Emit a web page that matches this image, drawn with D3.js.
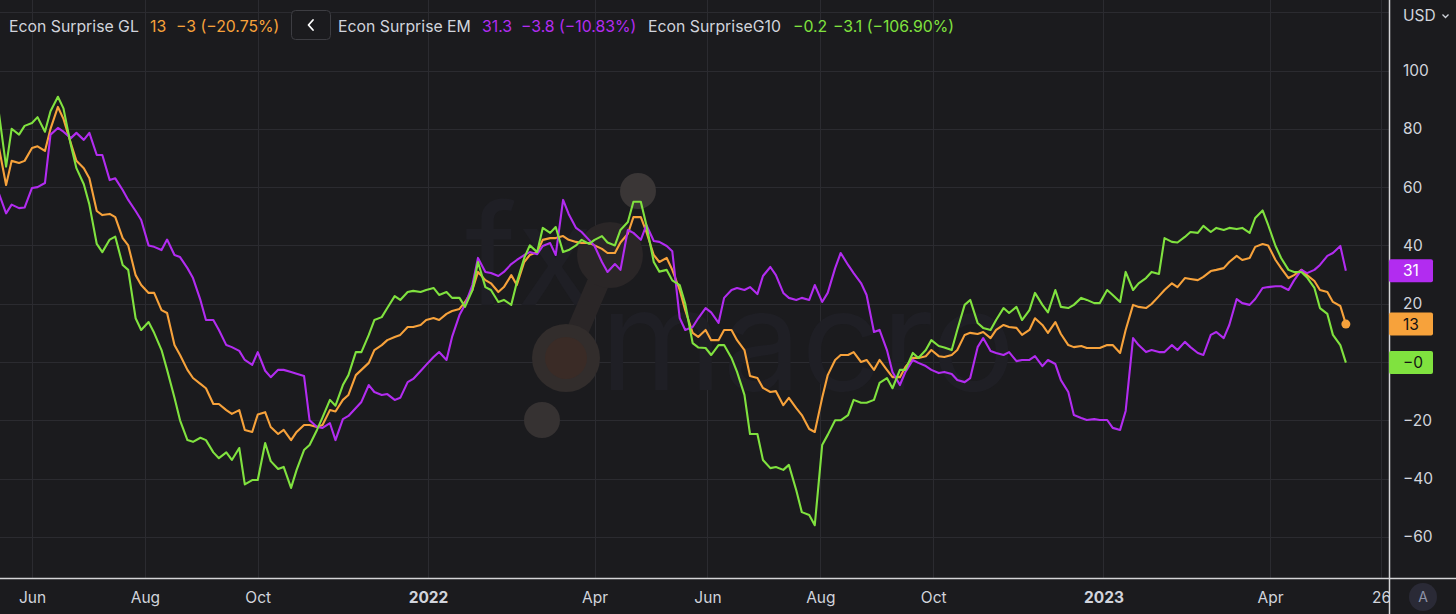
<!DOCTYPE html>
<html><head><meta charset="utf-8">
<script src="https://cdn.jsdelivr.net/npm/d3@7"></script>
<style>
html,body{margin:0;padding:0;background:#1b1b1e;}
svg{display:block;}
text{font-family:Inter,"Noto Sans",sans-serif;}
</style></head><body>
<svg id="chart" width="1456" height="614"></svg>
<script>
// ---------- data (twice-weekly readings) ----------
const dates = ["2021-05-14","2021-05-18","2021-05-21","2021-05-25","2021-05-28","2021-06-01","2021-06-04","2021-06-08","2021-06-11","2021-06-15","2021-06-18","2021-06-22","2021-06-25","2021-06-29","2021-07-02","2021-07-06","2021-07-09","2021-07-13","2021-07-16","2021-07-20","2021-07-23","2021-07-27","2021-07-30","2021-08-03","2021-08-06","2021-08-10","2021-08-13","2021-08-17","2021-08-20","2021-08-24","2021-08-27","2021-08-31","2021-09-03","2021-09-07","2021-09-10","2021-09-14","2021-09-17","2021-09-21","2021-09-24","2021-09-28","2021-10-01","2021-10-05","2021-10-08","2021-10-12","2021-10-15","2021-10-19","2021-10-22","2021-10-26","2021-10-29","2021-11-02","2021-11-05","2021-11-09","2021-11-12","2021-11-16","2021-11-19","2021-11-23","2021-11-26","2021-11-30","2021-12-03","2021-12-07","2021-12-10","2021-12-14","2021-12-17","2021-12-21","2021-12-24","2021-12-28","2021-12-31","2022-01-04","2022-01-07","2022-01-11","2022-01-14","2022-01-18","2022-01-21","2022-01-25","2022-01-28","2022-02-01","2022-02-04","2022-02-08","2022-02-11","2022-02-15","2022-02-18","2022-02-22","2022-02-25","2022-03-01","2022-03-04","2022-03-08","2022-03-11","2022-03-15","2022-03-18","2022-03-22","2022-03-25","2022-03-29","2022-04-01","2022-04-05","2022-04-08","2022-04-12","2022-04-15","2022-04-19","2022-04-22","2022-04-26","2022-04-29","2022-05-03","2022-05-06","2022-05-10","2022-05-13","2022-05-17","2022-05-20","2022-05-24","2022-05-27","2022-05-31","2022-06-03","2022-06-07","2022-06-10","2022-06-14","2022-06-17","2022-06-21","2022-06-24","2022-06-28","2022-07-01","2022-07-05","2022-07-08","2022-07-12","2022-07-15","2022-07-19","2022-07-22","2022-07-26","2022-07-29","2022-08-02","2022-08-05","2022-08-09","2022-08-12","2022-08-16","2022-08-19","2022-08-23","2022-08-26","2022-08-30","2022-09-02","2022-09-06","2022-09-09","2022-09-13","2022-09-16","2022-09-20","2022-09-23","2022-09-27","2022-09-30","2022-10-04","2022-10-07","2022-10-11","2022-10-14","2022-10-18","2022-10-21","2022-10-25","2022-10-28","2022-11-01","2022-11-04","2022-11-08","2022-11-11","2022-11-15","2022-11-18","2022-11-22","2022-11-25","2022-11-29","2022-12-02","2022-12-06","2022-12-09","2022-12-13","2022-12-16","2022-12-20","2022-12-23","2022-12-27","2022-12-30","2023-01-03","2023-01-06","2023-01-10","2023-01-13","2023-01-17","2023-01-20","2023-01-24","2023-01-27","2023-01-31","2023-02-03","2023-02-07","2023-02-10","2023-02-14","2023-02-17","2023-02-21","2023-02-24","2023-02-28","2023-03-03","2023-03-07","2023-03-10","2023-03-14","2023-03-17","2023-03-21","2023-03-24","2023-03-28","2023-03-31","2023-04-04","2023-04-07","2023-04-11","2023-04-14","2023-04-18","2023-04-21","2023-04-25","2023-04-28","2023-05-02","2023-05-05","2023-05-09","2023-05-12"];

const glValues = [74,60.7,69,68.3,69,73.4,74,72.4,80,87.5,83.4,75,69,66.5,63,51.8,50.4,50.8,49.7,42.5,
40,29.8,26.4,23.7,23.7,17.8,16.8,5.8,2.4,-2.7,-5.5,-7.5,-9,-14.4,-14.4,-16.5,-17.8,-16.5,-23.3,-24,
-18,-17.2,-22.3,-24.7,-23.3,-26.8,-24,-21.6,-21.6,-22.3,-21.6,-16.5,-17,-13,-11.3,-4.5,-2.7,-0.3,4.1,5.8,
7.5,8.6,9.3,12,12,12.7,14.4,15.1,14.4,16.5,17.5,18.2,20.6,24.7,30.9,28.1,27,24,25.7,29.8,
26.4,34.3,36.7,37.7,41.9,42.5,42.5,43.2,41.9,41.2,40.8,40.8,40,38.8,37.4,37.4,41,44,49.7,49.7,
44.6,36.7,34.3,35.7,31.6,24.7,17.8,10,8.6,11,7.5,7.5,11,11,7.5,4.1,-4.8,-5.5,-8.9,-10.3,
-10,-14.8,-12.3,-15.8,-18.2,-23,-24,-12.3,-4.5,0.7,2.4,2.4,3.4,0,0.7,-2.7,0.7,-2.7,-5.2,-5.2,
-1.7,1.4,1.4,2,4.1,2,1.7,2.4,4.1,9.3,10,9.6,10.3,8.2,11,12.7,12,11.7,9.3,11,
15,12.7,10,13.7,9.6,5.8,5.1,5.5,4.8,4.8,4.8,5.8,5.8,3.1,11,19.6,18.9,18.5,19.9,22.6,
24.7,27,25.7,28.8,28.5,28.1,29.2,31.2,31.6,32.2,34.3,36.4,35,35.7,39.5,40.5,40,35,32.2,28.8,
29.8,31.6,29.8,27.8,24.7,24,20.6,19.2,13];

const emValues = [58,51,54,52.8,53,59.7,60,61.4,78,80.3,79,76.8,78.6,76.2,78.6,71,71,62.4,63,59,
55.6,51.8,48.7,40,39.5,38.4,42,36.7,36,32.2,28.8,21.3,14.4,14.4,11,5.8,5.1,3.8,0.7,-1,
3.4,-3,-5.2,-2.7,-2.7,-3.4,-4,-4.8,-20,-22.3,-22.6,-21,-26.8,-19.6,-18.5,-15.8,-13.7,-7.9,-10.3,-11.3,
-11,-13,-12.3,-6.9,-5.8,-3.1,-1,1.7,3.4,0.7,8.6,16.1,19.6,26.4,35.7,30.9,30.5,29.5,30.9,33.6,
35,36.7,37.7,37,39.8,40.8,36.7,55.6,50.8,46,44.6,41.9,39.8,34.3,30.9,33.6,31.6,45.3,44.3,41.9,
47,41.5,41.2,39.8,38,15.1,11,12,15,18.5,17,13.4,22,24.7,25.4,24.7,25.7,23.3,29.5,32.6,
29.8,23.7,22,21.3,22,21.3,26.4,20.6,23.7,32.2,37.4,33.3,30.5,27.1,23,10.3,11,4.1,-3.4,-7.9,
-3.4,0.7,-0.3,-1.4,-2.7,-3.8,-3.4,-4.1,-6.2,-6.9,-5.5,5.1,8.2,3.8,3.1,2.4,3.4,0.3,0.7,0.7,
2,-1.4,0.7,-0.7,-6.2,-10.3,-18.2,-19.2,-19.9,-19.6,-19.9,-19.9,-22.6,-23.3,-16.8,8.2,5.8,3.4,4.1,3.4,
3.4,5.8,4.1,6.9,5.1,3.1,2.4,9.3,10.3,8.2,12.7,21.6,20.2,19.6,21.6,25.4,25.7,26,26,24.7,
28,31.6,30.5,31.6,33.3,36.4,37.4,39.8,31.3];

const g10Values = [86,67,80,78,81,82,84,79,86,91,87,74.4,66.5,61,54,40.5,37.7,42,43,33.3,
31.6,15,11,13.7,10,4.1,-2.7,-12.3,-20,-26.8,-27.4,-26,-26.8,-31,-33,-31,-33.6,-29.5,-42,-40.5,
-40.5,-27.8,-34,-36.7,-36,-43.2,-37,-30.2,-28.5,-23.3,-19,-13,-15,-7.9,-4.5,3.4,3.4,9.3,14.4,15.4,
18.5,22.6,21.3,24,24.4,24,24.7,25.4,23,24,22,22,18.9,24.7,34.3,25.7,24.7,20.6,21.3,19.6,
27.4,35.7,40,37.7,46,44.3,46.3,37.7,38.4,40,41.9,40.5,41.9,43.2,41,40,45.3,48,55,55,
47,34.3,31,31.6,28,26.4,20,6.5,5,4.8,2.4,5.8,5.8,1.4,-3.4,-11.3,-24.7,-24.7,-33.6,-36.4,
-36,-37,-35.3,-44,-51.5,-52.5,-56,-28.5,-25,-20,-20,-18.2,-13,-14,-14,-13,-7.2,-5.5,-9,-2.7,
-2.7,3.1,1.4,4.1,7.5,5.5,5,4.1,11,19.6,21.3,13.4,11.7,11,14.4,18.5,16.8,18.9,14.4,17.8,
23.7,19.6,17,24.7,18.9,18.5,19.6,22,21.3,20.2,20.2,24.7,23,20.6,30.9,24.7,27,28.8,30.9,30.2,
42.5,41.2,41,42.9,44.6,44.3,46.7,44.6,46,45.3,46,45.6,46,44.3,49.4,52,47,39.8,35.7,31.6,
30.9,30.9,29,25.4,18.5,16.5,9.3,5.8,-0.2];

const seriesNames = ["Econ Surprise GL","Econ Surprise EM","Econ SurpriseG10"];
const seriesColors = ["#f7a23b","#b22cf0","#80e23f"];
const seriesLastText = ["13","31.3","\u22120.2"];
const seriesChangeText = ["\u22123 (\u221220.75%)","\u22123.8 (\u221210.83%)","\u22123.1 (\u2212106.90%)"];
const priceBoxText = ["13","31","\u22120"];
const priceBoxTextColor = ["#131313","#ffffff","#131313"];

const yTicks = [-60,-40,-20,20,40,60,80,100];
const yGrid = [-60,-40,-20,0,20,40,60,80,100,120];
const xTickDates = ["2021-06-01","2021-08-01","2021-10-01","2022-01-01","2022-04-01","2022-06-01","2022-08-01","2022-10-01","2023-01-01","2023-04-01","2023-05-31"];
const xTickLabels = ["Jun","Aug","Oct","2022","Apr","Jun","Aug","Oct","2023","Apr","26"];

// ---------- layout ----------
const W = 1456, H = 614, plotR = 1389, plotB = 578;
const FONT = "Inter, 'Noto Sans', sans-serif";
const parse = d3.timeParse("%Y-%m-%d");
const svg = d3.select("#chart");
svg.append("rect").attr("width", W).attr("height", H).attr("fill", "#1b1b1e");

const x = d3.scaleTime().domain([parse("2021-06-01"), parse("2023-04-01")]).range([32, 1270]);
const y = d3.scaleLinear().domain([0, 100]).range([362, 70.5]);

const defs = svg.append("defs");
defs.append("clipPath").attr("id", "plotClip").append("rect")
  .attr("x", 0).attr("y", 0).attr("width", plotR).attr("height", plotB);

// gridlines
const grid = svg.append("g").attr("clip-path", "url(#plotClip)");
grid.selectAll("line.h").data(yGrid).join("line").attr("class", "h")
  .attr("x1", 0).attr("x2", plotR)
  .attr("y1", d => Math.round(y(d)) + 0.5).attr("y2", d => Math.round(y(d)) + 0.5)
  .attr("stroke", "#2b2b30").attr("stroke-width", 1);
grid.selectAll("line.v").data(xTickDates.map(parse)).join("line").attr("class", "v")
  .attr("x1", d => Math.round(x(d)) + 0.5).attr("x2", d => Math.round(x(d)) + 0.5)
  .attr("y1", 0).attr("y2", plotB)
  .attr("stroke", "#2b2b30").attr("stroke-width", 1);

// watermark (fxmacro logo)
const wm = svg.append("g").attr("clip-path", "url(#plotClip)");
wm.append("text").attr("x", 465).attr("y", 305).attr("font-size", 140)
  .attr("fill", "#1f1f25").text("fx");
wm.append("text").attr("x", 600).attr("y", 390).attr("font-size", 140)
  .attr("fill", "#1f1f25").text("macro");
wm.append("line").attr("x1", 610).attr("y1", 255).attr("x2", 566).attr("y2", 358)
  .attr("stroke", "#2a2627").attr("stroke-width", 22).attr("stroke-linecap", "round");
wm.append("circle").attr("cx", 610).attr("cy", 255).attr("r", 33).attr("fill", "#2a2627");
wm.append("circle").attr("cx", 566).attr("cy", 358).attr("r", 34).attr("fill", "#322d2c");
wm.append("circle").attr("cx", 566).attr("cy", 358).attr("r", 21).attr("fill", "#3a2b26");
wm.append("circle").attr("cx", 638).attr("cy", 191).attr("r", 18).attr("fill", "#3a3636");
wm.append("circle").attr("cx", 542).attr("cy", 420).attr("r", 18).attr("fill", "#363232");

// lines
const seriesValues = [glValues, emValues, g10Values];
const dParsed = dates.map(parse);
const line = d3.line().x(d => x(d.date)).y(d => y(d.v));
const lines = svg.append("g").attr("clip-path", "url(#plotClip)");
seriesValues.forEach((vals, i) => {
  const n = Math.min(vals.length, dParsed.length);
  const pts = d3.range(n).map(j => ({ date: dParsed[j], v: vals[j] }));
  lines.append("path").datum(pts).attr("d", line)
    .attr("fill", "none").attr("stroke", seriesColors[i])
    .attr("stroke-width", 2.1).attr("stroke-linejoin", "round");
});
// end dot on GL
lines.append("circle").attr("cx", x(dParsed[dParsed.length - 1]))
  .attr("cy", y(glValues[glValues.length - 1])).attr("r", 4.5).attr("fill", seriesColors[0]);

// frame lines
svg.append("line").attr("x1", plotR + 0.5).attr("x2", plotR + 0.5).attr("y1", 0).attr("y2", H)
  .attr("stroke", "#d4d4d6").attr("stroke-width", 1.5);
svg.append("line").attr("x1", 0).attr("x2", W).attr("y1", plotB + 0.5).attr("y2", plotB + 0.5)
  .attr("stroke", "#d4d4d6").attr("stroke-width", 1.5);

// y axis
const yAxis = d3.axisRight(y).tickValues(yTicks).tickSize(0).tickPadding(14)
  .tickFormat(d => d3.format("d")(d).replace("-", "\u2212"));
const yg = svg.append("g").attr("transform", `translate(${plotR},0)`).call(yAxis);
yg.select(".domain").remove();
yg.selectAll("text").attr("fill", "#d1d4dc").attr("font-size", 15.5).attr("font-family", FONT);

// x axis
const xClip = defs.append("clipPath").attr("id", "xClip");
xClip.append("rect").attr("x", 0).attr("y", plotB).attr("width", plotR).attr("height", H - plotB);
const xAxis = d3.axisBottom(x).tickValues(xTickDates.map(parse)).tickSize(0).tickPadding(14)
  .tickFormat((d, i) => xTickLabels[i]);
const xg = svg.append("g").attr("clip-path", "url(#xClip)")
  .append("g").attr("transform", `translate(0,${plotB})`).call(xAxis);
xg.select(".domain").remove();
xg.selectAll("text").attr("fill", "#d1d4dc").attr("font-size", 15.5).attr("font-family", FONT)
  .attr("font-weight", (d, i) => /^\d{4}$/.test(xTickLabels[i]) ? 700 : 400);

// USD label
svg.append("text").attr("x", 1403).attr("y", 21).attr("font-size", 15.5).attr("fill", "#d1d4dc").text("USD");
svg.append("path").attr("d", "M1442.5,14.5 L1445.5,17.5 L1448.5,14.5").attr("fill", "none")
  .attr("stroke", "#d1d4dc").attr("stroke-width", 1.3);

// price boxes
seriesValues.forEach((vals, i) => {
  const cy = y(vals[vals.length - 1]);
  svg.append("rect").attr("x", plotR).attr("y", cy - 11.5).attr("width", 44).attr("height", 23)
    .attr("rx", 2).attr("fill", seriesColors[i]);
  svg.append("text").attr("x", 1403).attr("y", cy + 5.5).attr("font-size", 15.5)
    .attr("fill", priceBoxTextColor[i]).text(priceBoxText[i]);
});

// legend
const legendX = [[9, 150, 176], [338, 482, 521], [648, 793, 833]];
const leg = svg.append("g");
seriesNames.forEach((name, i) => {
  leg.append("text").attr("x", legendX[i][0]).attr("y", 32).attr("font-size", 15.8)
    .attr("fill", "#d1d4dc").text(name);
  leg.append("text").attr("x", legendX[i][1]).attr("y", 32).attr("font-size", 15.8)
    .attr("fill", seriesColors[i]).text(seriesLastText[i]);
  leg.append("text").attr("x", legendX[i][2]).attr("y", 32).attr("font-size", 15.8)
    .attr("fill", seriesColors[i]).text(seriesChangeText[i]);
});
leg.append("rect").attr("x", 291.5).attr("y", 10.5).attr("width", 39).attr("height", 29).attr("rx", 4)
  .attr("fill", "#1b1b1e").attr("stroke", "#3d3d42");
leg.append("path").attr("d", "M313,20 L308.5,25 L313,30").attr("fill", "none")
  .attr("stroke", "#ffffff").attr("stroke-width", 1.8).attr("stroke-linecap", "round").attr("stroke-linejoin", "round");

// "A" button
svg.append("circle").attr("cx", 1423).attr("cy", 597).attr("r", 14).attr("fill", "#2a2a36");
svg.append("text").attr("x", 1423).attr("y", 602).attr("text-anchor", "middle").attr("font-size", 14)
  .attr("fill", "#8d92a6").text("A");
</script></body></html>
